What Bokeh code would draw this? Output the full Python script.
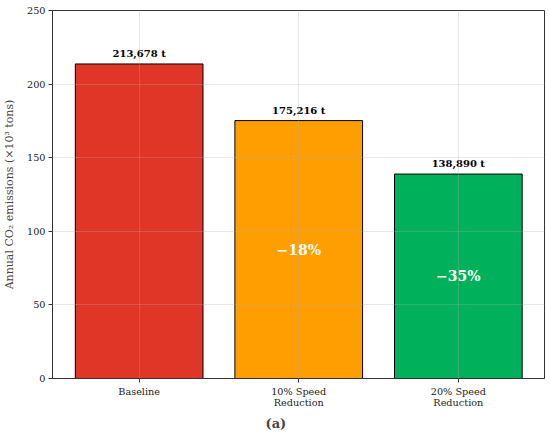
from bokeh.plotting import figure
from bokeh.models import ColumnDataSource, FixedTicker, Range1d, Title
from bokeh.embed import file_html
from bokeh.resources import INLINE
from bokeh.core.properties import value

categories = ["Baseline", "10% Speed\nReduction", "20% Speed\nReduction"]
emissions = [213.678, 175.216, 138.890]
value_labels = ["213,678 t", "175,216 t", "138,890 t"]
pct_labels = ["", "\u221218%", "\u221235%"]
colors = ["#e03628", "#ff9e00", "#00b05a"]
y_ticks = [0, 50, 100, 150, 200, 250]

xs = list(range(len(categories)))
src = ColumnDataSource(dict(x=xs, top=emissions, color=colors, lab=value_labels,
                            pct=pct_labels, mid=[v / 2 for v in emissions]))

SERIF = "DejaVu Serif"
p = figure(width=550, height=436, output_backend="svg", toolbar_location=None,
           x_range=Range1d(-0.543, 2.54), y_range=Range1d(0, 250),
           min_border_top=10, min_border_right=6, min_border_bottom=58,
           min_border_left=48)

p.vbar(x="x", top="top", width=0.8, source=src, fill_color="color",
       line_color="black", line_width=1)
p.text(x="x", y="top", text="lab", source=src, text_align="center",
       text_baseline="bottom", y_offset=-5, text_font=value(SERIF),
       text_font_style="bold", text_font_size="10px", text_color="black")
p.text(x="x", y="mid", text="pct", source=src, text_align="center",
       text_baseline="middle", text_font=value(SERIF),
       text_font_style="bold", text_font_size="14px", text_color="white")

p.xaxis.ticker = FixedTicker(ticks=xs)
p.xaxis.major_label_overrides = {i: c for i, c in enumerate(categories)}
p.yaxis.ticker = FixedTicker(ticks=y_ticks)
p.yaxis.axis_label = "Annual CO\u2082 emissions (\u00d710\u00b3 tons)"
p.yaxis.axis_label_standoff = 8

for ax in (p.xaxis, p.yaxis):
    ax.major_label_text_font = SERIF
    ax.major_label_text_font_size = "9.7px"
    ax.major_label_text_line_height = 1.05
    ax.major_label_text_color = "#222222"
    ax.major_label_standoff = 3
    ax.axis_label_text_font = SERIF
    ax.axis_label_text_font_size = "11px"
    ax.axis_label_text_font_style = "normal"
    ax.minor_tick_line_color = None
    ax.major_tick_out = 4
    ax.major_tick_in = 0
    ax.axis_line_color = "#333333"
    ax.major_tick_line_color = "#333333"

p.outline_line_color = "#333333"
p.outline_line_alpha = 1
p.grid.grid_line_color = "#b0b0b0"
p.grid.grid_line_alpha = 0.3
p.grid.level = "overlay"

cap = Title(text="(a)", align="left", offset=213, text_font=SERIF,
            text_font_size="13px", text_font_style="bold", standoff=4)
p.add_layout(cap, "below")

open("out.html", "w").write(file_html(p, INLINE))
